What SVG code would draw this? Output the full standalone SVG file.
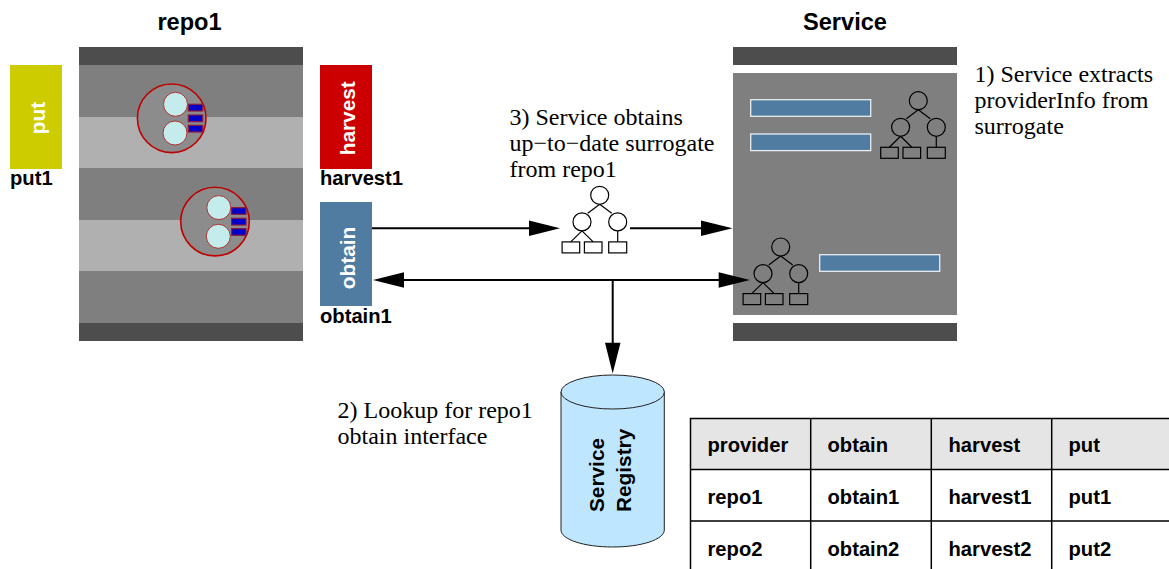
<svg xmlns="http://www.w3.org/2000/svg" width="1169" height="569" viewBox="0 0 1169 569">
<style>
.b{font-family:"Liberation Sans",Arial,sans-serif;font-weight:700;font-size:20.2px;fill:#000}
.t{font-size:23.6px;text-anchor:middle}
.r{font-size:20.8px}
.w{font-family:"Liberation Sans",Arial,sans-serif;font-weight:700;font-size:20.8px;fill:#fff;text-anchor:middle}
.s{font-family:"Liberation Serif","Times New Roman",serif;font-size:24px;fill:#000}
.dark{fill:#4d4d4d}.mid{fill:#7f7f7f}.light{fill:#b0b0b0}
.tn{fill:none;stroke:#000;stroke-width:1.2}
.bar{fill:#4f7ca0;stroke:#e8eef2;stroke-width:1.3}
.ball{fill:#8c8c8c;stroke:#bf0000;stroke-width:1.6}
.in{fill:#c4ecec;stroke:#b02020;stroke-width:.9}
.sm{fill:#0000cc;stroke:#8a1a40;stroke-width:1.2}
.l{fill:none;stroke:#000;stroke-width:2}
.g{fill:none;stroke:#000;stroke-width:1.5}
</style>
<defs>
<g id="tree">
<circle class="tn" cx="0" cy="0" r="9"/><circle class="tn" cx="-17.7" cy="26.6" r="9"/><circle class="tn" cx="18" cy="26.6" r="9"/>
<path class="tn" d="M0 9L-12 18M0 9L12 18M-17.7 35.6L-29 46.6M-17.7 35.6L-6.5 46.6M18 35.6V46.6"/>
<rect class="tn" x="-37.6" y="46.6" width="17.6" height="11"/><rect class="tn" x="-15.3" y="46.6" width="17.6" height="11"/><rect class="tn" x="9" y="46.6" width="18" height="11"/>
</g>
<g id="ballg">
<circle class="ball" cx="0" cy="0" r="34.3"/>
<rect class="sm" x="16.6" y="-14" width="14.4" height="6.7"/><rect class="sm" x="16.6" y="-3.3" width="14.4" height="6.7"/><rect class="sm" x="16.6" y="7" width="14.4" height="6.7"/>
<circle class="in" cx="3.8" cy="-14" r="12"/><circle class="in" cx="3.3" cy="14.7" r="12"/>
</g>
</defs>
<g id="repo1">
<rect class="dark" x="79" y="47" width="224" height="18"/>
<rect class="mid" x="79" y="65" width="224" height="52"/>
<rect class="light" x="79" y="117" width="224" height="51"/>
<rect class="mid" x="79" y="168" width="224" height="52"/>
<rect class="light" x="79" y="220" width="224" height="51"/>
<rect class="mid" x="79" y="271" width="224" height="52"/>
<rect class="dark" x="79" y="323" width="224" height="18"/>
<use href="#ballg" x="171.7" y="118.3"/>
<use href="#ballg" x="215" y="221.6"/>
<text class="b t" x="189.5" y="30">repo1</text>
</g>
<g id="put">
<rect x="10" y="65" width="52" height="104" fill="#cccc00"/>
<text class="w" transform="translate(45,118) rotate(-90)">put</text>
<text class="b" x="10" y="185">put1</text>
</g>
<g id="harvest">
<rect x="320" y="65" width="52" height="104" fill="#cc0000"/>
<text class="w" transform="translate(355,118.3) rotate(-90)">harvest</text>
<text class="b" x="320" y="185">harvest1</text>
</g>
<g id="obtain">
<rect x="320" y="202" width="52" height="104" fill="#4f7ca0"/>
<text class="w" transform="translate(354.5,258) rotate(-90)">obtain</text>
<text class="b" x="320" y="322.7">obtain1</text>
</g>
<g id="service">
<rect class="dark" x="733" y="47" width="224" height="18"/>
<rect class="mid" x="733" y="73" width="224" height="242"/>
<rect class="dark" x="733" y="323" width="224" height="18"/>
<rect class="bar" x="750.7" y="99.7" width="120" height="16.6"/>
<rect class="bar" x="750.7" y="134" width="120" height="16.6"/>
<rect class="bar" x="819.7" y="254.7" width="120" height="16.6"/>
<use href="#tree" x="918.3" y="100.7"/>
<use href="#tree" x="780.7" y="247"/>
<text class="b t" x="845" y="30">Service</text>
</g>
<g id="surrogate"><use href="#tree" x="599.7" y="195.3"/></g>
<g id="connectors">
<path class="l" d="M372 228.2H532"/><path d="M560 228.2L529 220.5V236Z"/>
<path class="l" d="M630 228.2H704"/><path d="M732.5 228.2L701 220.5V236Z"/>
<path class="l" d="M400 280H722"/><path d="M373 280L404 272.3V287.8Z"/><path d="M750 280L718.7 272.3V287.8Z"/>
<path class="l" d="M612.7 280V346"/><path d="M612.7 373.5L605 342.7H620.5Z"/>
</g>
<g id="registry">
<path d="M561 392V530C561 539.5 584 547 612.7 547S664.3 539.5 664.3 530V392Z" fill="#bfe6ff" stroke="#222" stroke-width="1"/>
<ellipse cx="612.7" cy="392" rx="51.7" ry="17" fill="#bfe6ff" stroke="#222" stroke-width="1"/>
<text class="b r" transform="translate(604,512) rotate(-90)">Service</text>
<text class="b r" transform="translate(630.5,512) rotate(-90)">Registry</text>
</g>
<g id="notes">
<text class="s" x="974.5" y="82">1) Service extracts</text>
<text class="s" x="974.5" y="108">providerInfo from</text>
<text class="s" x="974.5" y="134">surrogate</text>
<text class="s" x="509.5" y="125">3) Service obtains</text>
<text class="s" x="509.5" y="151">up−to−date surrogate</text>
<text class="s" x="509.5" y="177">from repo1</text>
<text class="s" x="337.5" y="418">2) Lookup for repo1</text>
<text class="s" x="337.5" y="444">obtain interface</text>
</g>
<g id="table">
<rect x="690.5" y="418.5" width="480" height="51" fill="#e5e5e5"/>
<path class="g" d="M690.5 569V418.5H1169M690.5 469.5H1169M690.5 521H1169M810.7 418.5V569M931.3 418.5V569M1051.7 418.5V569"/>
<text class="b" x="707.5" y="452">provider</text><text class="b" x="827.5" y="452">obtain</text><text class="b" x="948.5" y="452">harvest</text><text class="b" x="1068.5" y="452">put</text>
<text class="b" x="707.5" y="504">repo1</text><text class="b" x="827.5" y="504">obtain1</text><text class="b" x="948.5" y="504">harvest1</text><text class="b" x="1068.5" y="504">put1</text>
<text class="b" x="707.5" y="555.5">repo2</text><text class="b" x="827.5" y="555.5">obtain2</text><text class="b" x="948.5" y="555.5">harvest2</text><text class="b" x="1068.5" y="555.5">put2</text>
</g>
</svg>
